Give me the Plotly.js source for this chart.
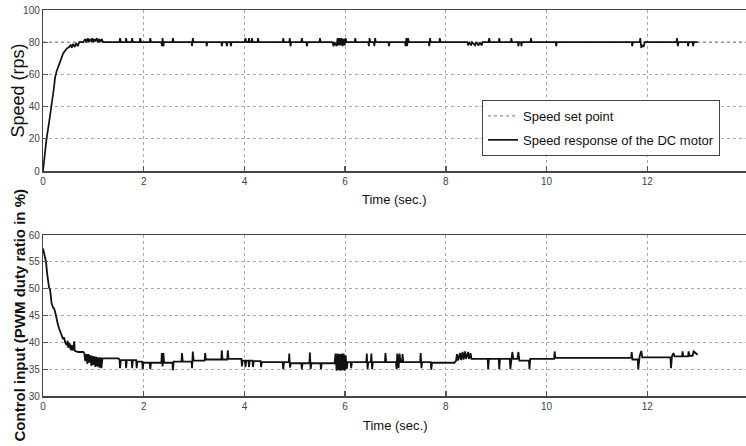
<!DOCTYPE html>
<html>
<head>
<meta charset="utf-8">
<script src="https://cdn.plot.ly/plotly-3.0.1.min.js"></script>
<style>html,body{margin:0;padding:0;background:#fff;}#chart{width:746px;height:446px;}</style>
</head>
<body>
<div id="chart"></div>
<script>
// ---- data ----
const xTicks = [0, 2, 4, 6, 8, 10, 12];
const speedTicks = [0, 20, 40, 60, 80, 100];
const ctrlTicks = [30, 35, 40, 45, 50, 55, 60];

const setPointTime = [0, 14];
const setPointSpeed = [80, 80];

// speed response of the DC motor: [time (s), speed (rps)]
const speedPts = [
 [0,0],[0.03,10],[0.07,20],[0.12,30],[0.17,40],[0.21,50],[0.24,58],[0.27,62],[0.33,67],[0.4,73],[0.47,76],
 [0.52,77],[0.55,78.5],[0.57,76.5],[0.6,79],[0.63,77],[0.66,79.5],[0.69,77.5],[0.72,80],[0.8,80],
 [0.84,82],[0.86,80],[0.89,82.5],[0.91,80],[0.94,82],[0.96,80.5],[0.98,82.5],[1.0,80],[1.02,82],[1.04,80.5],
 [1.07,82.5],[1.09,80],[1.12,82],[1.14,80],[1.17,82],[1.19,80],
 [1.52,80],[1.53,82.5],[1.545,80],[1.64,80],[1.65,82.5],[1.665,80],[1.76,80],[1.77,82.5],[1.785,80],
 [1.92,80],[1.93,82.5],[1.945,80],[2.12,80],[2.13,82.5],[2.145,80],
 [2.35,80],[2.36,77.5],[2.375,82.5],[2.39,77.5],[2.405,80],[2.57,80],[2.58,82.5],[2.595,80],
 [2.95,80],[2.96,77.5],[2.975,82.5],[2.99,80],[3.24,80],[3.25,77.5],[3.265,80],
 [3.54,80],[3.55,77.5],[3.565,80],[3.64,80],[3.65,77.5],[3.665,80],[3.72,80],[3.73,77.5],[3.745,80],
 [4.0,80],[4.02,82.5],[4.035,80],[4.08,80],[4.09,82.5],[4.105,80],[4.14,80],[4.15,82.5],[4.165,80],
 [4.26,80],[4.27,82.5],[4.285,80],[4.76,80],[4.77,82.5],[4.785,80],[4.89,80],[4.9,82.5],[4.915,77.5],[4.93,80],
 [5.13,80],[5.14,82.5],[5.155,80],[5.23,80],[5.24,77.5],[5.255,80],[5.49,80],[5.5,82.5],[5.515,80],
 [5.75,80],[5.77,77.5],[5.79,80],[5.83,77.5],[5.85,82.5],[5.87,78],[5.89,82.5],[5.91,78],[5.93,82.5],
 [5.95,77.5],[5.97,82],[5.99,78],[6.01,82.5],[6.03,80],
 [6.19,80],[6.2,82.5],[6.215,80],[6.46,80],[6.47,77.5],[6.485,82.5],[6.5,80],[6.57,80],[6.58,77.5],[6.595,82.5],[6.61,80],
 [6.86,80],[6.87,77.5],[6.885,80],[7.19,80],[7.2,77.5],[7.215,82.5],[7.23,77.5],[7.25,82.5],[7.265,80],
 [7.66,80],[7.67,77.5],[7.685,82.5],[7.7,80],[7.87,80],[7.88,82.5],[7.895,80],
 [8.43,80],[8.44,78],[8.46,80],[8.5,78],[8.52,80],[8.58,78],[8.6,80],[8.65,78],[8.67,80],[8.71,78],[8.73,80],
 [8.85,80],[8.86,82.5],[8.875,80],[9.05,80],[9.06,82.5],[9.075,80],[9.29,80],[9.3,82.5],[9.315,80],
 [9.43,80],[9.44,77.5],[9.455,80],[9.49,80],[9.5,77.5],[9.515,80],[9.68,80],[9.69,82.5],[9.705,80],
 [10.18,80],[10.19,77.5],[10.205,80],[11.69,80],[11.7,77.5],[11.715,80],
 [11.85,80],[11.86,82.5],[11.88,76.5],[11.9,78],[11.93,77.5],[11.95,80],
 [12.58,80],[12.59,82.5],[12.605,77.5],[12.62,80],[12.8,80],[12.81,77.5],[12.825,80],
 [12.9,80],[12.91,77.5],[12.925,80],[13.0,80]
];

// control input (PWM duty ratio in %): [time (s), duty (%)]
const ctrlPts = [
 [0,57.5],[0.02,56.8],[0.04,56],[0.06,55],[0.08,53],[0.1,51.3],[0.12,50.2],[0.14,49.8],[0.16,48],[0.17,47.3],
 [0.2,46.5],[0.22,46.3],[0.24,45.7],[0.27,44.3],[0.3,43.2],[0.33,42.3],[0.37,41.4],[0.4,40.6],[0.42,40.9],
 [0.44,40],[0.47,39.5],[0.49,40.3],[0.5,39],[0.53,39.8],[0.55,38.6],[0.57,39.5],[0.58,38.6],[0.6,38.7],
 [0.62,40.2],[0.63,38.4],[0.66,38.3],[0.7,38.2],[0.8,38.2],
 [0.82,38],[0.84,36.5],[0.86,37.8],[0.88,36],[0.9,37.8],[0.92,36.2],[0.94,37.6],[0.96,35.6],[0.98,37.5],
 [1.0,35.8],[1.02,37.4],[1.04,35.4],[1.06,37.3],[1.08,35.5],[1.1,37.2],[1.12,35.3],[1.14,37.2],[1.16,35.2],
 [1.18,37],[1.5,37],[1.51,36.7],
 [1.52,36.7],[1.53,35.2],[1.545,36.7],[1.64,36.7],[1.65,35.2],[1.665,36.7],[1.76,36.7],[1.77,35.2],[1.785,36.7],
 [1.85,36.7],[1.86,35.2],[1.875,36.4],[1.97,36.4],[1.98,35],[1.995,36.2],[2.12,36.2],[2.13,35],[2.145,36.2],
 [2.35,36.2],[2.36,38],[2.375,35.5],[2.39,38],[2.405,36.2],[2.57,36.2],[2.58,34.8],[2.595,36.4],
 [2.75,36.4],[2.76,38],[2.775,36.4],[2.95,36.4],[2.96,35.2],[2.975,38.3],[2.99,36.6],
 [3.21,36.6],[3.22,38],[3.235,36.8],[3.54,36.8],[3.55,38.5],[3.565,36.8],[3.66,36.8],[3.67,38.5],[3.685,36.9],
 [3.94,36.9],[3.95,35.5],[3.965,36.6],[4.01,36.6],[4.02,35.4],[4.035,36.6],[4.08,36.6],[4.09,35.4],[4.105,36.6],
 [4.16,36.6],[4.17,35.4],[4.185,36.5],[4.32,36.5],[4.33,35.4],[4.345,36.3],
 [4.76,36.3],[4.77,35],[4.785,36.3],[4.88,36.3],[4.89,37.9],[4.905,35.3],[4.92,36.1],
 [5.13,36.1],[5.14,35],[5.155,36.1],[5.29,36.1],[5.3,38.1],[5.315,35],[5.33,36.1],[5.51,36.1],[5.52,35],[5.535,36.1],
 [5.79,36.1],[5.81,37.9],[5.83,34.7],[5.85,37.9],[5.87,34.8],[5.89,37.8],[5.91,34.7],[5.93,37.9],[5.95,34.8],
 [5.97,37.9],[5.99,34.7],[6.01,37.6],[6.03,35],[6.05,36.3],[6.11,36.3],[6.12,35.2],[6.135,36.3],
 [6.42,36.3],[6.43,37.9],[6.445,35],[6.46,36.3],[6.51,36.3],[6.52,37.9],[6.535,35],[6.55,36.3],
 [6.79,36.3],[6.8,38],[6.815,36.3],[7.01,36.3],[7.02,35],[7.035,37.9],[7.06,35.2],[7.08,37.9],[7.1,36.3],
 [7.13,36.3],[7.14,37.8],[7.155,36.3],[7.49,36.3],[7.5,38],[7.515,35.2],[7.53,36.3],
 [7.7,36.3],[7.71,34.9],[7.725,36.2],[8.17,36.2],[8.2,36.5],[8.22,37.8],[8.24,36.6],[8.28,38],[8.3,36.7],
 [8.33,38.2],[8.35,36.8],[8.38,38.3],[8.4,36.9],[8.44,38.2],[8.46,36.9],[8.49,38],[8.51,36.9],
 [8.83,36.9],[8.84,35],[8.855,36.9],[9.05,36.9],[9.06,35],[9.075,36.9],[9.27,36.9],[9.28,35],[9.3,37.2],
 [9.32,38.2],[9.34,36.9],[9.42,36.9],[9.44,38.2],[9.46,36.6],[9.65,36.6],[9.66,35],[9.675,36.9],
 [10.15,36.9],[10.16,38.3],[10.175,37.1],[11.68,37.1],[11.69,38.2],[11.705,36.8],[11.81,36.8],[11.82,35],
 [11.85,37.5],[11.88,38.4],[11.9,37.2],[12.46,37.2],[12.47,35.2],[12.49,37.4],[12.52,38],[12.54,37.4],
 [12.69,37.4],[12.7,38.3],[12.715,37.4],[12.81,37.4],[12.82,38.3],[12.835,37.5],[12.9,37.5],[12.92,38.3],[13.0,37.7]
];

// ---- chart ----
const sans = '"Liberation Sans", Arial, sans-serif';

const traces = [
  {x: setPointTime, y: setPointSpeed, xaxis: 'x', yaxis: 'y', type: 'scatter', mode: 'lines',
   name: 'Speed set point', legendgroup: 'a', line: {color: '#8a8a8a', width: 1.2, dash: 'dot'}},
  {x: speedPts.map(p => p[0]), y: speedPts.map(p => p[1]), xaxis: 'x', yaxis: 'y', type: 'scatter', mode: 'lines',
   name: 'Speed response of the DC motor', legendgroup: 'b', line: {color: '#111', width: 1.7}},
  {x: ctrlPts.map(p => p[0]), y: ctrlPts.map(p => p[1]), xaxis: 'x2', yaxis: 'y2', type: 'scatter', mode: 'lines',
   name: 'Control input', showlegend: false, line: {color: '#111', width: 1.8}}
];

const H = 446, L = 43, PW = 703;
const px = v => (v - L) / PW;      // pixel -> paper x
const py = v => 1 - v / H;         // pixel -> paper y

function xa(anchor) {
  return {
    anchor: anchor, domain: [0, 1], range: [0, 13.96], tickvals: xTicks, ticktext: xTicks.map(String),
    ticks: 'inside', ticklen: 5, tickcolor: '#555', tickwidth: 1.5,
    showline: true, linecolor: '#444', linewidth: 1.5, mirror: true,
    showgrid: true, gridcolor: '#a8a8a8', griddash: 'dot', gridwidth: 1, zeroline: false,
    tickfont: {family: sans, size: 10, color: '#444'}
  };
}
function ya(anchor, dom, rng, vals) {
  return {
    anchor: anchor, domain: dom, range: rng, tickvals: vals, ticktext: vals.map(String),
    ticks: 'inside', ticklen: 5, tickcolor: '#555', tickwidth: 1,
    showline: true, linecolor: '#444', linewidth: 1.2, mirror: true,
    showgrid: true, gridcolor: '#a8a8a8', griddash: 'dot', gridwidth: 1, zeroline: false,
    tickfont: {family: sans, size: 10, color: '#444'}
  };
}

const layout = {
  width: 746, height: 446,
  margin: {l: L, r: 0, t: 0, b: 0, autoexpand: false},
  paper_bgcolor: '#fff', plot_bgcolor: '#fff',
  showlegend: true,
  xaxis: xa('y'),
  yaxis: ya('x', [py(171), py(10)], [0, 100], speedTicks),
  xaxis2: xa('y2'),
  yaxis2: ya('x2', [py(396), py(235)], [30, 60], ctrlTicks),
  annotations: [
    {text: 'Time (sec.)', xref: 'paper', yref: 'paper', x: px(394), y: py(200), xanchor: 'center', yanchor: 'middle',
     showarrow: false, font: {family: sans, size: 13, color: '#111'}},
    {text: 'Time (sec.)', xref: 'paper', yref: 'paper', x: px(395), y: py(425), xanchor: 'center', yanchor: 'middle',
     showarrow: false, font: {family: sans, size: 13, color: '#111'}},
    {text: 'Speed (rps)', xref: 'paper', yref: 'paper', x: px(18), y: py(90.5), xanchor: 'center', yanchor: 'middle',
     textangle: -90, showarrow: false, font: {family: sans, size: 18, color: '#111'}},
    {text: '<b>Control input (PWM duty ratio in %)</b>', xref: 'paper', yref: 'paper', x: px(19), y: py(315.5),
     xanchor: 'center', yanchor: 'middle', textangle: -90, showarrow: false, font: {family: sans, size: 15, color: '#111'}}
  ],
  legend: {
    x: px(482), y: py(100), xanchor: 'left', yanchor: 'top',
    bgcolor: '#fff', bordercolor: '#444', borderwidth: 1,
    font: {family: sans, size: 13, color: '#111'},
    itemwidth: 30, tracegroupgap: 4
  }
};

Plotly.newPlot('chart', traces, layout, {staticPlot: true, displayModeBar: false});
</script>
</body>
</html>
